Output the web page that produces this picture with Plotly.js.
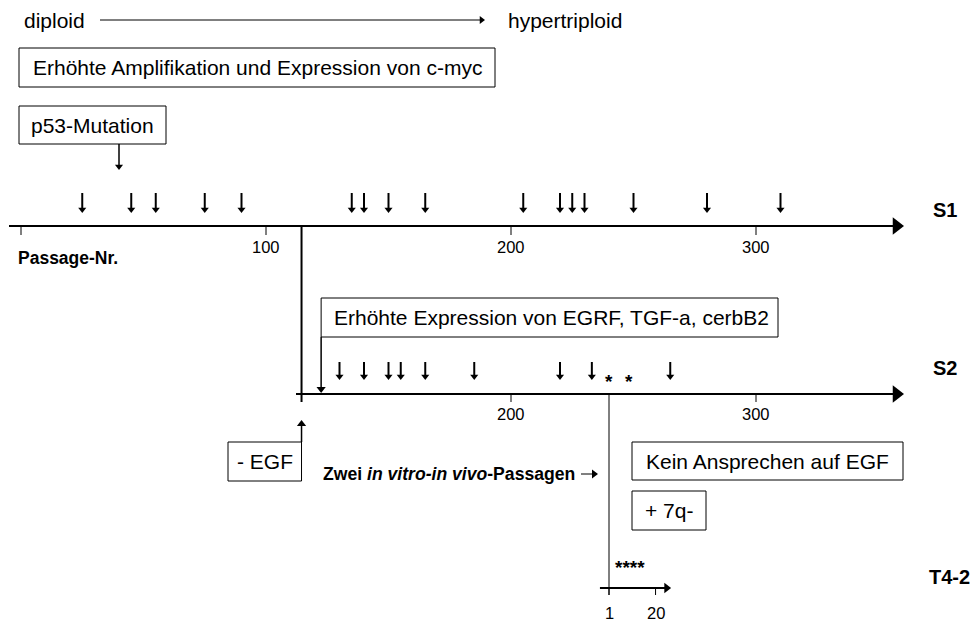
<!DOCTYPE html>
<html>
<head>
<meta charset="utf-8">
<script src="https://cdn.plot.ly/plotly-3.0.1.min.js"></script>
<style>html,body{margin:0;padding:0;background:#fff}</style>
</head>
<body>
<div id="chart" style="width:970px;height:622px"></div>
<script>
// ---------- data (passage numbers) ----------
const s1TickVals = [0, 100, 200, 300];
const s1TickLabels = ["", "100", "200", "300"];
const s1Events = [25, 45, 55, 75, 90, 135, 140, 150, 165, 205, 220, 225, 230, 250, 280, 310];
const s2TickVals = [200, 300];
const s2TickLabels = ["200", "300"];
const s2Events = [130, 140, 150, 155, 165, 185, 220, 233, 265];
const s2Stars = [240, 248];
const p53Passage = 40;
const splitPassage = 114.5;     // S1 -> S2 (- EGF)
const egfrPassage = 122.5;      // increased EGFR / TGF-a / cerbB2 expression
const t4Passage = 240;          // two in vitro - in vivo passages -> T4-2
const t4TickVals = [1, 20];
const t4TickLabels = ["1", "20"];
const seriesNames = ["S1", "S2", "T4-2"];

// ---------- geometry helpers ----------
const PX0 = 21, PXS = 2.45;                 // pixel = PX0 + PXS * passage
const toPass = px => (px - PX0) / PXS;
const FONT = "Liberation Sans, Arial, sans-serif";
const BLACK = "#000";

const traces = [];
const shapes = [];
const annotations = [];

function line(xref, x0, y0, x1, y1, w) {
  shapes.push({type: "line", xref: xref, yref: "y", x0: x0, y0: y0, x1: x1, y1: y1,
               line: {color: BLACK, width: w}});
}
function rect(x0, y0, x1, y1) {
  shapes.push({type: "rect", xref: "x2", yref: "y", x0: x0, y0: y0, x1: x1, y1: y1,
               line: {color: BLACK, width: 1}, fillcolor: "rgba(0,0,0,0)"});
}
function text(xref, x, y, t, size, opts) {
  annotations.push(Object.assign({xref: xref, yref: "y", x: x, y: y, text: t, showarrow: false,
    xanchor: "center", yanchor: "middle", font: {family: FONT, size: size, color: BLACK}}, opts || {}));
}
function heads(xaxis, xs, ys, symbol, size) {
  traces.push({type: "scatter", mode: "markers", xaxis: xaxis, yaxis: "y", x: xs, y: ys,
    marker: {symbol: symbol, size: size, color: BLACK, line: {width: 0}}, hoverinfo: "skip"});
}
function downArrows(xaxis, xs, yTop, yTip, w, size) {
  const lx = [], ly = [];
  xs.forEach(v => { lx.push(v, v, null); ly.push(yTop, yTip - size / 2, null); });
  traces.push({type: "scatter", mode: "lines", xaxis: xaxis, yaxis: "y", x: lx, y: ly,
    line: {color: BLACK, width: w}, hoverinfo: "skip"});
  heads(xaxis, xs, xs.map(() => yTip - size / 2), "triangle-down", size);
}

// ---------- S1 timeline ----------
const yS1 = 226, yS2 = 394, yT4 = 588;
const axisTip = toPass(904);
line("x", toPass(9), yS1, axisTip - 4, yS1, 2);
heads("x", [axisTip - 7.5 / PXS], [yS1], "triangle-right", 15);
s1TickVals.forEach(v => line("x", v, yS1, v, yS1 + 9, 1));
s1TickVals.forEach((v, i) => text("x", v, 247, s1TickLabels[i], 16.5));
downArrows("x", s1Events, 193, 213, 2, 7);
text("x2", 931, 210, "<b>" + seriesNames[0] + "</b>", 20, {xanchor: "left"});
text("x2", 16, 258, "<b>Passage-Nr.</b>", 17.5, {xanchor: "left"});

// p53
rect(19, 106, 166, 144);
text("x2", 92.5, 125, "p53-Mutation", 21);
downArrows("x", [p53Passage], 144, 170, 1.5, 7);

// top row
text("x2", 22, 20, "diploid", 21, {xanchor: "left"});
text("x2", 506, 20, "hypertriploid", 21, {xanchor: "left"});
line("x2", 100, 20, 480, 20, 1);
heads("x2", [481.5], [20], "triangle-right", 7);
rect(19, 48, 495, 87);
text("x2", 257, 67.5, "Erhöhte Amplifikation und Expression von c-myc", 21);

// ---------- S2 timeline ----------
line("x", splitPassage, yS1, splitPassage, yS2 + 8, 2);
line("x", toPass(296), yS2, axisTip - 4, yS2, 2);
heads("x", [axisTip - 7.5 / PXS], [yS2], "triangle-right", 15);
s2TickVals.forEach(v => line("x", v, yS2, v, yS2 + 8, 1));
s2TickVals.forEach((v, i) => text("x", v, 414, s2TickLabels[i], 16.5));
downArrows("x", s2Events, 362, 380, 2, 7);
s2Stars.forEach(v => text("x", v, 381, "<b>*</b>", 19));
text("x2", 931, 368, "<b>" + seriesNames[1] + "</b>", 20, {xanchor: "left"});

// EGFR box with arrow into S2
rect(PX0 + PXS * egfrPassage, 298, 778, 337);
text("x2", 551, 317.5, "Erhöhte Expression von EGRF, TGF-a, cerbB2", 21);
downArrows("x", [egfrPassage], 337, 393, 1.5, 8);

// - EGF box with arrow up
rect(228, 442, PX0 + PXS * splitPassage, 481);
text("x2", 265, 461.5, "- EGF", 21);
line("x", splitPassage, 442, splitPassage, 425, 1.5);
heads("x", [splitPassage], [424], "triangle-up", 8);

// ---------- T4-2 ----------
line("x", t4Passage, yS2, t4Passage, yT4 + 7, 1);
text("x2", 321, 474, "<b>Zwei <i>in vitro-in vivo</i>-Passagen</b>", 17.6, {xanchor: "left"});
line("x2", 581, 474, 594, 474, 1);
heads("x2", [594], [474], "triangle-right", 8);
rect(632, 442, 903, 480);
text("x2", 767.5, 461, "Kein Ansprechen auf EGF", 21);
rect(632, 491, 706, 530);
text("x2", 669, 510.5, "+ 7q-", 21);
text("x", t4Passage + 1.6, 567, "<b>****</b>", 19, {xanchor: "left"});
const t4Pos = n => t4Passage + (n - 1);
line("x", t4Pos(-2.7), yT4, t4Pos(24.5), yT4, 2);
heads("x", [t4Pos(24.5)], [yT4], "triangle-right", 9);
t4TickVals.forEach(n => line("x", t4Pos(n), yT4, t4Pos(n), yT4 + 7, 1));
t4TickVals.forEach((n, i) => text("x", t4Pos(n), 613, t4TickLabels[i], 16.5));
text("x2", 927, 577, "<b>" + seriesNames[2] + "</b>", 20, {xanchor: "left"});

const layout = {
  width: 970, height: 622,
  margin: {l: 0, r: 0, t: 0, b: 0, pad: 0},
  paper_bgcolor: "#fff", plot_bgcolor: "#fff",
  showlegend: false,
  xaxis: {range: [toPass(0), toPass(970)], visible: false, fixedrange: true},
  xaxis2: {range: [0, 970], visible: false, overlaying: "x", anchor: "y", fixedrange: true},
  yaxis: {range: [622, 0], visible: false, fixedrange: true},
  shapes: shapes,
  annotations: annotations
};
Plotly.newPlot("chart", traces, layout, {displayModeBar: false, staticPlot: true});
</script>
</body>
</html>
